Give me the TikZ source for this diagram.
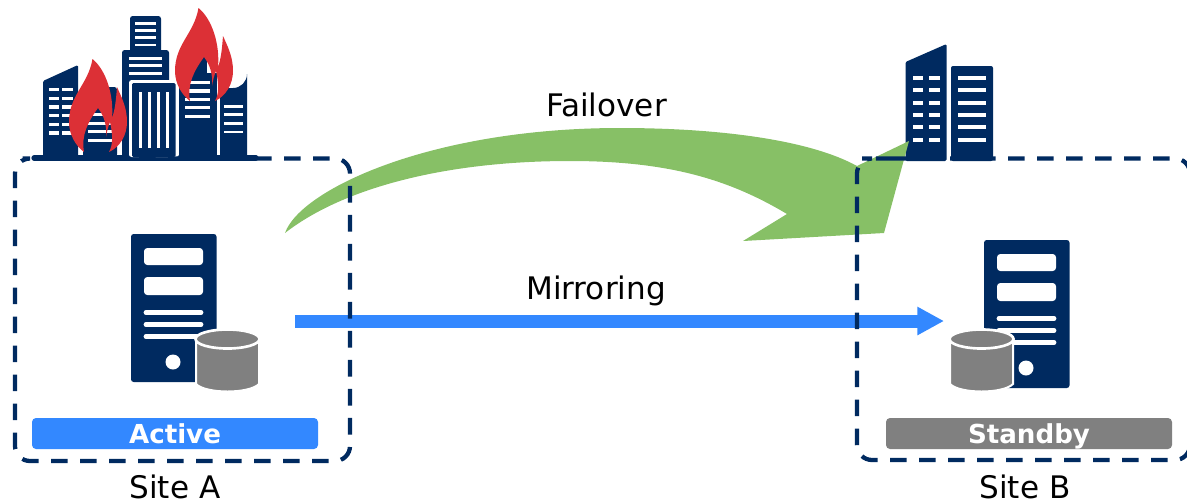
\documentclass[tikz,border=0pt]{standalone}
\usepackage{fontspec}
\setmainfont{DejaVu Sans}
\usetikzlibrary{arrows.meta}
\definecolor{navy}{HTML}{002A60}
\definecolor{mirrorblue}{HTML}{3388FF}
\definecolor{failgreen}{HTML}{87C066}
\definecolor{flamered}{HTML}{DC3036}
\definecolor{diskgray}{HTML}{808080}
\tikzset{sitebox/.style = {draw=navy, line width=3.2pt, rounded corners=11.25pt, dash pattern=on 12.4pt off 9.35pt}}
\tikzset{badge/.style = {rounded corners=3pt, minimum width=214.5pt, minimum height=23.25pt, inner sep=0pt, text=white, font=\bfseries\fontsize{19.6}{20}\selectfont, text height=15.5pt, text depth=0pt}}
\tikzset{label/.style = {anchor=base, inner sep=0pt, font=\fontsize{23.3}{24}\selectfont}}
\tikzset{server/.pic = {
    \fill[navy, rounded corners=2pt] (131,234) rectangle (216.5,382);
    \fill[white, rounded corners=2.5pt] (144,248) rectangle (203,265);
    \fill[white, rounded corners=2.5pt] (144,277) rectangle (203,295);
    \foreach \y in {312.5,324.5,336.5}
      \draw[white, line width=3.6pt, line cap=round] (146,\y) -- (201,\y);
    \fill[white] (173,362) circle (7.5);
}}
\tikzset{disk/.pic = {
    \filldraw[fill=diskgray, draw=white, line width=1.5pt] (196,341) -- (196,384) .. controls (206,394) and (249,394) .. (259,384) -- (259,341) -- cycle;
    \filldraw[fill=diskgray, draw=white, line width=2pt] (227.5,339) ellipse [x radius=32, y radius=9.5];
}}
\tikzset{flame/.pic = {
    \fill[flamered] (92.5,59) .. controls (88,85) and (69,95) .. (69,122) .. controls (69,135) and (76,146) .. (84,152)
      .. controls (81,135) and (88,122) .. (98,108) .. controls (104,116) and (107,125) .. (106,137)
      .. controls (107,131) and (108,127) .. (110,122) .. controls (113,135) and (113,145) .. (109,152)
      .. controls (120,147) and (127,135) .. (127,122) .. controls (127,108) and (122,98) .. (117,87)
      .. controls (116,100) and (115,110) .. (112,118) .. controls (114,95) and (106,70) .. (92.5,59) -- cycle;
}}
\begin{document}
\begin{tikzpicture}[x=0.75pt, y=-0.75pt]
      \useasboundingbox (0,0) rectangle (1187,501);
      % city at site A
      \draw[navy, line width=4pt, line cap=round] (34,158) -- (256,158);
      \fill[navy, rounded corners=1pt] (43,157) -- (43,81) -- (78,65) -- (78,157) -- cycle;
      \foreach \y in {88,96.7,105.4,114,122.7,131.4} {
        \fill[white] (48.5,\y) rectangle +(10.5,3.3);
        \fill[white] (62,\y) rectangle +(10.5,3.3);
      }
      \fill[navy, rounded corners=2pt] (83,157) |- (117,87) |- cycle;
      \foreach \y in {113,121.5,130,138.5}
        \fill[white] (88,\y) rectangle +(24,3.3);
      \fill[navy, rounded corners=2pt] (130,60) |- (161,16) |- cycle;
      \foreach \y in {22,29,36.3,43.6}
        \fill[white] (134.5,\y) rectangle +(21.5,2.8);
      \fill[navy, rounded corners=2pt] (122,157) |- (169,50) |- cycle;
      \foreach \y in {56.7,64.3,72}
        \fill[white] (128.5,\y) rectangle +(33.5,2.8);
      \fill[white, rounded corners=2pt] (129,157) |- (179,80) |- cycle;
      \fill[navy, rounded corners=1pt] (132,157) |- (175.5,83) |- cycle;
      \foreach \x in {139,148,157,166}
        \fill[white] (\x,92) rectangle +(2.7,56);
      \fill[navy] (190,75) rectangle (207,55);
      \fill[navy] (179,157) rectangle (217,73);
      \foreach \y in {81,89.3,97.7,106,114.6}
        \fill[white] (185,\y) rectangle +(25,3.3);
      \fill[navy] (220,157) -- (220,88) -- (233,88) arc [start angle=90, end angle=0, radius=14] -- (247,157) -- cycle;
      \foreach \y in {104.7,113.3,122,130.6}
        \fill[white] (224,\y) rectangle +(19,2.8);
      % city at site B
      \fill[navy, rounded corners=1pt] (905.5,161) -- (905.5,62) -- (946.5,44) -- (946.5,161) -- cycle;
      \foreach \y in {75.5,88,100.5,113,125,137.5} {
        \fill[white] (912.5,\y) rectangle +(10.5,4);
        \fill[white] (929,\y) rectangle +(10.5,4);
      }
      \fill[navy, rounded corners=1.5pt] (951,161) |- (993,66) |- cycle;
      \foreach \y in {75.5,88,100.5,113,125,137.5}
        \fill[white] (958,\y) rectangle +(28,4);
      % failover
      \fill[failgreen] (285,233) .. controls (300,190) and (430,128) .. (620,128) .. controls (720,128) and (810,140) .. (857,166)
        -- (909,141) -- (884,233) -- (743,241) -- (787,214)
        .. controls (730,180) and (670,161) .. (570,161) .. controls (440,161) and (340,190) .. (285,233) -- cycle;
      \node[label] (failover) at (606.5,116) {Failover};
      % mirroring
      \coordinate (mirrorfrom) at (295,321);
      \coordinate (mirrorto) at (944,321);
      \draw[mirrorblue, line width=9.75pt, -{Triangle[length=20pt, width=20pt]}] (mirrorfrom) -- (mirrorto);
      \node[label] (mirroring) at (596,299) {Mirroring};
      % sites
      \draw[sitebox] (37,158.5) -- (350,158.5) -- (350,461) -- (15,461) -- (15,158.5) -- cycle;
      \draw[sitebox] (877,158.5) -- (1190,158.5) -- (1190,460) -- (857,460) -- (857,158.5) -- cycle;
      \node[label] (siteA) at (175,498) {Site A};
      \node[label] (siteB) at (1025,498) {Site B};
      \pic at (0,0) {server};
      \pic at (0,0) {disk};
      \pic at (853,6) {server};
      \pic at (754,0) {disk};
      \node[badge, fill=mirrorblue] (active) at (175,433.5) {Active};
      \node[badge, fill=diskgray] (standby) at (1029,433.5) {Standby};
      \pic at (0,0) {flame};
      \pic at (106,-51) {flame};
    \end{tikzpicture}
\end{document}
